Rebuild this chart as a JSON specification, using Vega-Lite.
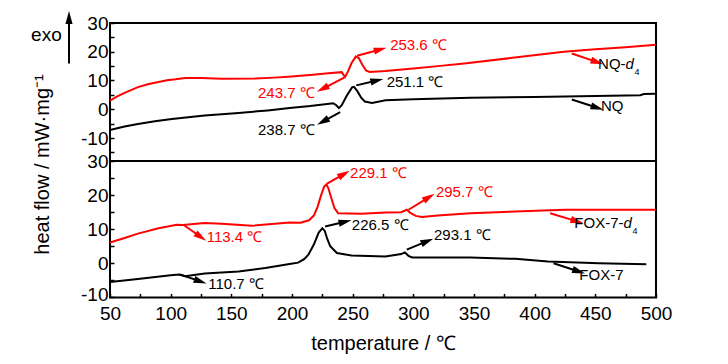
{
  "$schema": "https://vega.github.io/schema/vega-lite/v6.json",
  "autosize": {"type": "pad"},
  "padding": {"top": 10, "left": 30, "right": 5, "bottom": 5},
  "bounds": "flush",
  "spacing": 0,
  "config": {
    "font": "'Liberation Sans', Arial, sans-serif",
    "view": {"stroke": "#000000", "strokeWidth": 2},
    "axis": {
      "grid": false, "domain": false, "tickColor": "#000000", "tickWidth": 1.5, "tickSize": -4, "tickCount": 100,
      "labelFont": "'Liberation Sans', Arial, sans-serif",
      "labelFontSize": 19, "labelColor": "#000000", "labelFlush": false, "labelOverlap": false, "labelPadding": 6,
      "titleFont": "'Liberation Sans', Arial, sans-serif",
      "titleFontSize": 20, "titleFontWeight": "normal", "titleColor": "#000000"
    }
  },
  "datasets": {
    "curves": [
      {"s":"NQ-d4","T":50,"v":3.0},{"s":"NQ-d4","T":56,"v":4.5},{"s":"NQ-d4","T":62,"v":5.7},{"s":"NQ-d4","T":73,"v":7.7},{"s":"NQ-d4","T":82,"v":8.8},{"s":"NQ-d4","T":90,"v":9.5},{"s":"NQ-d4","T":97,"v":10.1},{"s":"NQ-d4","T":104,"v":10.4},{"s":"NQ-d4","T":112,"v":10.9},{"s":"NQ-d4","T":125,"v":10.9},{"s":"NQ-d4","T":142,"v":10.6},{"s":"NQ-d4","T":170,"v":10.7},{"s":"NQ-d4","T":185,"v":11.0},{"s":"NQ-d4","T":197,"v":11.3},{"s":"NQ-d4","T":215,"v":11.9},{"s":"NQ-d4","T":230,"v":12.5},{"s":"NQ-d4","T":241,"v":12.9},{"s":"NQ-d4","T":243.7,"v":11.2},{"s":"NQ-d4","T":246,"v":13.0},{"s":"NQ-d4","T":249,"v":16.0},{"s":"NQ-d4","T":252.5,"v":18.3},{"s":"NQ-d4","T":255,"v":17.8},{"s":"NQ-d4","T":258,"v":15.5},{"s":"NQ-d4","T":261,"v":13.5},{"s":"NQ-d4","T":264,"v":13.0},{"s":"NQ-d4","T":277,"v":13.3},{"s":"NQ-d4","T":300,"v":14.2},{"s":"NQ-d4","T":320,"v":15.0},{"s":"NQ-d4","T":342,"v":15.9},{"s":"NQ-d4","T":380,"v":17.8},{"s":"NQ-d4","T":410,"v":19.3},{"s":"NQ-d4","T":424,"v":20.0},{"s":"NQ-d4","T":450,"v":20.9},{"s":"NQ-d4","T":475,"v":21.6},{"s":"NQ-d4","T":500,"v":22.4},
      {"s":"NQ","T":50,"v":-7.2},{"s":"NQ","T":62,"v":-6.0},{"s":"NQ","T":73,"v":-5.1},{"s":"NQ","T":87,"v":-4.2},{"s":"NQ","T":101,"v":-3.4},{"s":"NQ","T":128,"v":-2.2},{"s":"NQ","T":156,"v":-1.3},{"s":"NQ","T":180,"v":-0.4},{"s":"NQ","T":198,"v":0.4},{"s":"NQ","T":215,"v":1.1},{"s":"NQ","T":234,"v":2.1},{"s":"NQ","T":236.5,"v":1.4},{"s":"NQ","T":238.7,"v":0.4},{"s":"NQ","T":241,"v":1.4},{"s":"NQ","T":245,"v":4.6},{"s":"NQ","T":249.5,"v":7.6},{"s":"NQ","T":251.1,"v":7.8},{"s":"NQ","T":254,"v":6.2},{"s":"NQ","T":257,"v":4.0},{"s":"NQ","T":260,"v":2.7},{"s":"NQ","T":266,"v":2.2},{"s":"NQ","T":277,"v":3.1},{"s":"NQ","T":300,"v":3.5},{"s":"NQ","T":347,"v":4.0},{"s":"NQ","T":400,"v":4.3},{"s":"NQ","T":450,"v":4.6},{"s":"NQ","T":487,"v":4.9},{"s":"NQ","T":490,"v":5.3},{"s":"NQ","T":500,"v":5.4},
      {"s":"FOX-7-d4","T":50,"v":6.1},{"s":"FOX-7-d4","T":62,"v":7.4},{"s":"FOX-7-d4","T":73,"v":8.7},{"s":"FOX-7-d4","T":90,"v":10.3},{"s":"FOX-7-d4","T":105,"v":11.3},{"s":"FOX-7-d4","T":110,"v":11.2},{"s":"FOX-7-d4","T":128,"v":11.8},{"s":"FOX-7-d4","T":142,"v":11.6},{"s":"FOX-7-d4","T":167,"v":11.0},{"s":"FOX-7-d4","T":198,"v":12.0},{"s":"FOX-7-d4","T":207,"v":11.9},{"s":"FOX-7-d4","T":214,"v":12.6},{"s":"FOX-7-d4","T":218,"v":14.0},{"s":"FOX-7-d4","T":221,"v":16.5},{"s":"FOX-7-d4","T":224,"v":20.0},{"s":"FOX-7-d4","T":226.5,"v":22.5},{"s":"FOX-7-d4","T":228.3,"v":23.1},{"s":"FOX-7-d4","T":230,"v":22.0},{"s":"FOX-7-d4","T":232.5,"v":19.0},{"s":"FOX-7-d4","T":235,"v":16.2},{"s":"FOX-7-d4","T":238,"v":14.7},{"s":"FOX-7-d4","T":257,"v":14.5},{"s":"FOX-7-d4","T":277,"v":14.9},{"s":"FOX-7-d4","T":290,"v":15.0},{"s":"FOX-7-d4","T":294.6,"v":15.7},{"s":"FOX-7-d4","T":297.5,"v":14.8},{"s":"FOX-7-d4","T":302,"v":13.9},{"s":"FOX-7-d4","T":307,"v":13.6},{"s":"FOX-7-d4","T":320,"v":14.0},{"s":"FOX-7-d4","T":347,"v":14.7},{"s":"FOX-7-d4","T":384,"v":15.2},{"s":"FOX-7-d4","T":425,"v":15.7},{"s":"FOX-7-d4","T":500,"v":15.7},
      {"s":"FOX-7","T":50,"v":-5.5},{"s":"FOX-7","T":73,"v":-4.6},{"s":"FOX-7","T":100,"v":-3.5},{"s":"FOX-7","T":107,"v":-3.3},{"s":"FOX-7","T":112,"v":-3.8},{"s":"FOX-7","T":128,"v":-3.0},{"s":"FOX-7","T":156,"v":-2.4},{"s":"FOX-7","T":178,"v":-1.4},{"s":"FOX-7","T":198,"v":-0.2},{"s":"FOX-7","T":205,"v":0.2},{"s":"FOX-7","T":210,"v":1.2},{"s":"FOX-7","T":213.5,"v":2.5},{"s":"FOX-7","T":218,"v":5.5},{"s":"FOX-7","T":222,"v":9.0},{"s":"FOX-7","T":225,"v":10.3},{"s":"FOX-7","T":227,"v":9.5},{"s":"FOX-7","T":229,"v":7.2},{"s":"FOX-7","T":231.5,"v":5.0},{"s":"FOX-7","T":237,"v":3.0},{"s":"FOX-7","T":249,"v":2.3},{"s":"FOX-7","T":277,"v":2.0},{"s":"FOX-7","T":290,"v":2.7},{"s":"FOX-7","T":293,"v":3.2},{"s":"FOX-7","T":296,"v":2.2},{"s":"FOX-7","T":299,"v":1.7},{"s":"FOX-7","T":347,"v":1.7},{"s":"FOX-7","T":384,"v":1.3},{"s":"FOX-7","T":411,"v":0.5},{"s":"FOX-7","T":453,"v":0.0},{"s":"FOX-7","T":492,"v":-0.3}
    ],
    "arrows": [
      {"s":"NQ-d4","p":"top","T1":253.6,"v1":18.6,"T2":272.8,"v2":20.8},
      {"s":"NQ-d4","p":"top","T1":243,"v1":11.0,"T2":225.2,"v2":7.1},
      {"s":"NQ-d4","p":"top","T1":430.6,"v1":19.4,"T2":451.6,"v2":16.4},
      {"s":"NQ","p":"top","T1":253,"v1":8.3,"T2":270,"v2":10.0},
      {"s":"NQ","p":"top","T1":239.7,"v1":-1.0,"T2":225.4,"v2":-4.3},
      {"s":"NQ","p":"top","T1":430.6,"v1":3.4,"T2":451.6,"v2":0.5},
      {"s":"exo","p":"top","T1":16.2,"v1":15.9,"T2":16.2,"v2":31.9},
      {"s":"FOX-7-d4","p":"bottom","T1":110.4,"v1":11.3,"T2":124.9,"v2":7.7},
      {"s":"FOX-7-d4","p":"bottom","T1":228.6,"v1":23.3,"T2":243,"v2":26.2},
      {"s":"FOX-7-d4","p":"bottom","T1":296,"v1":15.7,"T2":313,"v2":19.4},
      {"s":"FOX-7-d4","p":"bottom","T1":412.8,"v1":14.7,"T2":435,"v2":12.3},
      {"s":"FOX-7","p":"bottom","T1":107.7,"v1":-3.3,"T2":124.5,"v2":-5.3},
      {"s":"FOX-7","p":"bottom","T1":227.3,"v1":10.8,"T2":243.8,"v2":12.2},
      {"s":"FOX-7","p":"bottom","T1":294.6,"v1":4.0,"T2":311.5,"v2":6.5},
      {"s":"FOX-7","p":"bottom","T1":415.5,"v1":0.0,"T2":436.4,"v2":-2.4}
    ],
    "labels": [
      {"s":"NQ-d4","p":"top","T":280.9,"v":22.3,"text":"253.6 ℃"},
      {"s":"NQ-d4","p":"top","T":172,"v":5.7,"text":"243.7 ℃"},
      {"s":"NQ","p":"top","T":278,"v":9.5,"text":"251.1 ℃"},
      {"s":"NQ","p":"top","T":172,"v":-7.2,"text":"238.7 ℃"},
      {"s":"FOX-7-d4","p":"bottom","T":129.7,"v":7.7,"text":"113.4 ℃"},
      {"s":"FOX-7","p":"bottom","T":131,"v":-6.0,"text":"110.7 ℃"},
      {"s":"FOX-7-d4","p":"bottom","T":247.9,"v":26.5,"text":"229.1 ℃"},
      {"s":"FOX-7","p":"bottom","T":249.3,"v":11.3,"text":"226.5 ℃"},
      {"s":"FOX-7-d4","p":"bottom","T":318.6,"v":21.0,"text":"295.7 ℃"},
      {"s":"FOX-7","p":"bottom","T":317,"v":8.3,"text":"293.1 ℃"}
    ],
    "names": [
      {"p":"top","T":474.9,"v":15.9,"pre":"NQ-","it":"d","sub":"4"},
      {"p":"top","T":473.2,"v":1.3,"pre":"NQ","it":"","sub":""},
      {"p":"bottom","T":473.2,"v":11.8,"pre":"FOX-7-","it":"d","sub":"4"},
      {"p":"bottom","T":473.2,"v":-3.3,"pre":"FOX-7","it":"","sub":""}
    ],
    "exo": [{"T":-2.4,"v":25.7,"text":"exo"}]
  },
  "vconcat": [
    {
      "width": 546, "height": 138,
      "layer": [
        {
          "data": {"name": "curves"},
          "transform": [{"filter": "datum.s === 'NQ-d4' || datum.s === 'NQ'"}],
          "mark": {"type": "line", "strokeWidth": 2},
          "encoding": {
            "x": {"field": "T", "type": "quantitative", "scale": {"domain": [50, 500], "nice": false}, "axis": null},
            "y": {"field": "v", "type": "quantitative", "scale": {"domain": [-18, 30], "nice": false, "zero": false},
              "axis": {"values": [-15,-10,-5,0,5,10,15,20,25,30], "tickCount": 100, "labelOverlap": false,
                "labelExpr": "datum.value % 10 === 0 ? (datum.value < 0 ? '-' + abs(datum.value) : '' + datum.value) : ''",
                "title": "heat flow / mW·mg⁻¹", "titleX": -62, "titleY": 141, "titleAngle": -90, "titleAlign": "center", "titleBaseline": "alphabetic"}},
            "color": {"field": "s", "type": "nominal", "scale": {"domain": ["NQ-d4","NQ","FOX-7-d4","FOX-7","exo"], "range": ["#ff0000","#000000","#ff0000","#000000","#000000"]}, "legend": null}
          }
        },
        {
          "data": {"name": "arrows"},
          "transform": [{"filter": "datum.p === 'top'"}],
          "mark": {"type": "rule", "strokeWidth": 2},
          "encoding": {
            "x": {"field": "T1", "type": "quantitative"},
            "y": {"field": "v1", "type": "quantitative"},
            "x2": {"field": "T2"}, "y2": {"field": "v2"},
            "color": {"field": "s", "type": "nominal", "scale": {"domain": ["NQ-d4","NQ","FOX-7-d4","FOX-7","exo"], "range": ["#ff0000","#000000","#ff0000","#000000","#000000"]}, "legend": null}
          }
        },
        {
          "data": {"name": "arrows"},
          "transform": [{"filter": "datum.p === 'top'"}, {"calculate": "atan2((datum.T2 - datum.T1) * 1.2127, (datum.v2 - datum.v1) * 2.86) * 180 / PI", "as": "ang"}],
          "mark": {"type": "point", "shape": "M0,-1L0.55,1L-0.55,1Z", "filled": true, "size": 169, "opacity": 1, "strokeWidth": 0},
          "encoding": {
            "x": {"field": "T2", "type": "quantitative"},
            "y": {"field": "v2", "type": "quantitative"},
            "angle": {"field": "ang", "type": "quantitative", "scale": null},
            "color": {"field": "s", "type": "nominal", "scale": {"domain": ["NQ-d4","NQ","FOX-7-d4","FOX-7","exo"], "range": ["#ff0000","#000000","#ff0000","#000000","#000000"]}, "legend": null}
          }
        },
        {
          "data": {"name": "labels"},
          "transform": [{"filter": "datum.p === 'top'"}],
          "mark": {"type": "text", "align": "left", "baseline": "middle", "fontSize": 15},
          "encoding": {
            "x": {"field": "T", "type": "quantitative"},
            "y": {"field": "v", "type": "quantitative"},
            "text": {"field": "text"},
            "color": {"field": "s", "type": "nominal", "scale": {"domain": ["NQ-d4","NQ","FOX-7-d4","FOX-7","exo"], "range": ["#ff0000","#000000","#ff0000","#000000","#000000"]}, "legend": null}
          }
        },
        {
          "data": {"name": "names"},
          "transform": [{"filter": "datum.p === 'top'"}],
          "mark": {"type": "text", "align": "right", "baseline": "middle", "fontSize": 15, "color": "#000000"},
          "encoding": {"x": {"field": "T", "type": "quantitative"}, "y": {"field": "v", "type": "quantitative"}, "text": {"field": "pre"}}
        },
        {
          "data": {"name": "names"},
          "transform": [{"filter": "datum.p === 'top'"}],
          "mark": {"type": "text", "align": "left", "baseline": "middle", "fontSize": 15, "fontStyle": "italic", "color": "#000000"},
          "encoding": {"x": {"field": "T", "type": "quantitative"}, "y": {"field": "v", "type": "quantitative"}, "text": {"field": "it"}}
        },
        {
          "data": {"name": "names"},
          "transform": [{"filter": "datum.p === 'top'"}],
          "mark": {"type": "text", "align": "left", "baseline": "middle", "fontSize": 9, "dx": 9, "dy": 8, "color": "#000000"},
          "encoding": {"x": {"field": "T", "type": "quantitative"}, "y": {"field": "v", "type": "quantitative"}, "text": {"field": "sub"}}
        },
        {
          "data": {"name": "exo"},
          "mark": {"type": "text", "align": "center", "baseline": "middle", "fontSize": 19, "color": "#000000"},
          "encoding": {"x": {"field": "T", "type": "quantitative"}, "y": {"field": "v", "type": "quantitative"}, "text": {"field": "text"}}
        }
      ]
    },
    {
      "width": 546, "height": 136.4,
      "layer": [
        {
          "data": {"name": "curves"},
          "transform": [{"filter": "datum.s === 'FOX-7-d4' || datum.s === 'FOX-7'"}],
          "mark": {"type": "line", "strokeWidth": 2},
          "encoding": {
            "x": {"field": "T", "type": "quantitative", "scale": {"domain": [50, 500], "nice": false},
              "axis": {"values": [50,75,100,125,150,175,200,225,250,275,300,325,350,375,400,425,450,475,500], "tickCount": 100, "labelOverlap": false, "labelFlush": false, "labelPadding": 11,
                "labelExpr": "datum.value % 50 === 0 ? datum.label : ''", "title": "temperature / ℃", "titlePadding": 10}},
            "y": {"field": "v", "type": "quantitative", "scale": {"domain": [-10, 30], "nice": false, "zero": false},
              "axis": {"values": [-10,-5,0,5,10,15,20,25,30], "tickCount": 100, "labelOverlap": false,
                "labelOffset": {"condition": {"test": "datum.value === -10", "value": -3}, "value": 0},
                "labelExpr": "datum.value % 10 === 0 ? (datum.value < 0 ? '-' + abs(datum.value) : '' + datum.value) : ''",
                "title": null}},
            "color": {"field": "s", "type": "nominal", "scale": {"domain": ["NQ-d4","NQ","FOX-7-d4","FOX-7","exo"], "range": ["#ff0000","#000000","#ff0000","#000000","#000000"]}, "legend": null}
          }
        },
        {
          "data": {"name": "arrows"},
          "transform": [{"filter": "datum.p === 'bottom'"}],
          "mark": {"type": "rule", "strokeWidth": 2},
          "encoding": {
            "x": {"field": "T1", "type": "quantitative"},
            "y": {"field": "v1", "type": "quantitative"},
            "x2": {"field": "T2"}, "y2": {"field": "v2"},
            "color": {"field": "s", "type": "nominal", "scale": {"domain": ["NQ-d4","NQ","FOX-7-d4","FOX-7","exo"], "range": ["#ff0000","#000000","#ff0000","#000000","#000000"]}, "legend": null}
          }
        },
        {
          "data": {"name": "arrows"},
          "transform": [{"filter": "datum.p === 'bottom'"}, {"calculate": "atan2((datum.T2 - datum.T1) * 1.2127, (datum.v2 - datum.v1) * 3.41) * 180 / PI", "as": "ang"}],
          "mark": {"type": "point", "shape": "M0,-1L0.55,1L-0.55,1Z", "filled": true, "size": 169, "opacity": 1, "strokeWidth": 0},
          "encoding": {
            "x": {"field": "T2", "type": "quantitative"},
            "y": {"field": "v2", "type": "quantitative"},
            "angle": {"field": "ang", "type": "quantitative", "scale": null},
            "color": {"field": "s", "type": "nominal", "scale": {"domain": ["NQ-d4","NQ","FOX-7-d4","FOX-7","exo"], "range": ["#ff0000","#000000","#ff0000","#000000","#000000"]}, "legend": null}
          }
        },
        {
          "data": {"name": "labels"},
          "transform": [{"filter": "datum.p === 'bottom'"}],
          "mark": {"type": "text", "align": "left", "baseline": "middle", "fontSize": 15},
          "encoding": {
            "x": {"field": "T", "type": "quantitative"},
            "y": {"field": "v", "type": "quantitative"},
            "text": {"field": "text"},
            "color": {"field": "s", "type": "nominal", "scale": {"domain": ["NQ-d4","NQ","FOX-7-d4","FOX-7","exo"], "range": ["#ff0000","#000000","#ff0000","#000000","#000000"]}, "legend": null}
          }
        },
        {
          "data": {"name": "names"},
          "transform": [{"filter": "datum.p === 'bottom'"}],
          "mark": {"type": "text", "align": "right", "baseline": "middle", "fontSize": 15, "color": "#000000"},
          "encoding": {"x": {"field": "T", "type": "quantitative"}, "y": {"field": "v", "type": "quantitative"}, "text": {"field": "pre"}}
        },
        {
          "data": {"name": "names"},
          "transform": [{"filter": "datum.p === 'bottom'"}],
          "mark": {"type": "text", "align": "left", "baseline": "middle", "fontSize": 15, "fontStyle": "italic", "color": "#000000"},
          "encoding": {"x": {"field": "T", "type": "quantitative"}, "y": {"field": "v", "type": "quantitative"}, "text": {"field": "it"}}
        },
        {
          "data": {"name": "names"},
          "transform": [{"filter": "datum.p === 'bottom'"}],
          "mark": {"type": "text", "align": "left", "baseline": "middle", "fontSize": 9, "dx": 9, "dy": 8, "color": "#000000"},
          "encoding": {"x": {"field": "T", "type": "quantitative"}, "y": {"field": "v", "type": "quantitative"}, "text": {"field": "sub"}}
        }
      ]
    }
  ]
}
